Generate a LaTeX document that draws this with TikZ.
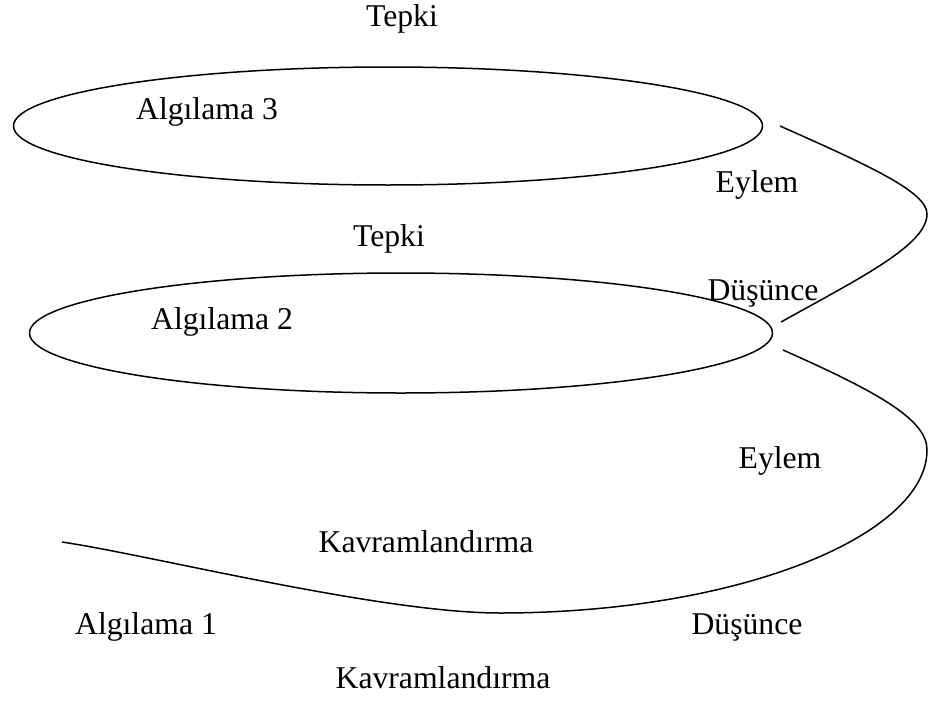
\documentclass[tikz,border=0pt]{standalone}
\usepackage{fontspec}
\setmainfont{Liberation Serif}
\usetikzlibrary{shapes.geometric}
\begin{document}
\begin{tikzpicture}[x=1pt,y=-1pt,
  lbl/.style={font=\fontsize{31.7}{38}\selectfont, inner sep=0pt, anchor=base},
  loop/.style={draw, ellipse, line width=1.5pt, inner sep=0pt},
  curve/.style={line width=1.5pt}]
\useasboundingbox (0,0) rectangle (944,701);
\node[loop, minimum width=749pt, minimum height=118pt] (e3) at (388,126) {};
\node[loop, minimum width=743pt, minimum height=120pt] (e2) at (401,333) {};
\coordinate (c1s) at (780,126);
\coordinate (c1r) at (927,214);
\coordinate (c1e) at (781,322);
\coordinate (c2s) at (783,350);
\coordinate (c2r) at (927,450);
\coordinate (c2b) at (500,613);
\coordinate (c2e) at (62,542);
\draw[curve] (c1s) .. controls (870,166) and (927,192) .. (c1r)
  .. controls (927,245) and (860,278) .. (c1e);
\draw[curve] (c2s) .. controls (880,393) and (927,420) .. (c2r)
  .. controls (927,535) and (740,613) .. (c2b)
  .. controls (380,613) and (150,555) .. (c2e);
\node[lbl] (t1) at (402,27) {Tepki};
\node[lbl] (a3) at (207,119) {Algılama 3};
\node[lbl] (ey1) at (757,192) {Eylem};
\node[lbl] (t2) at (389,246) {Tepki};
\node[lbl] (d1) at (763,300) {Düşünce};
\node[lbl] (a2) at (222,329) {Algılama 2};
\node[lbl] (ey2) at (780,468) {Eylem};
\node[lbl] (k1) at (426,552) {Kavramlandırma};
\node[lbl] (a1) at (146,634) {Algılama 1};
\node[lbl] (d2) at (747,634) {Düşünce};
\node[lbl] (k2) at (443,688) {Kavramlandırma};
\end{tikzpicture}
\end{document}
